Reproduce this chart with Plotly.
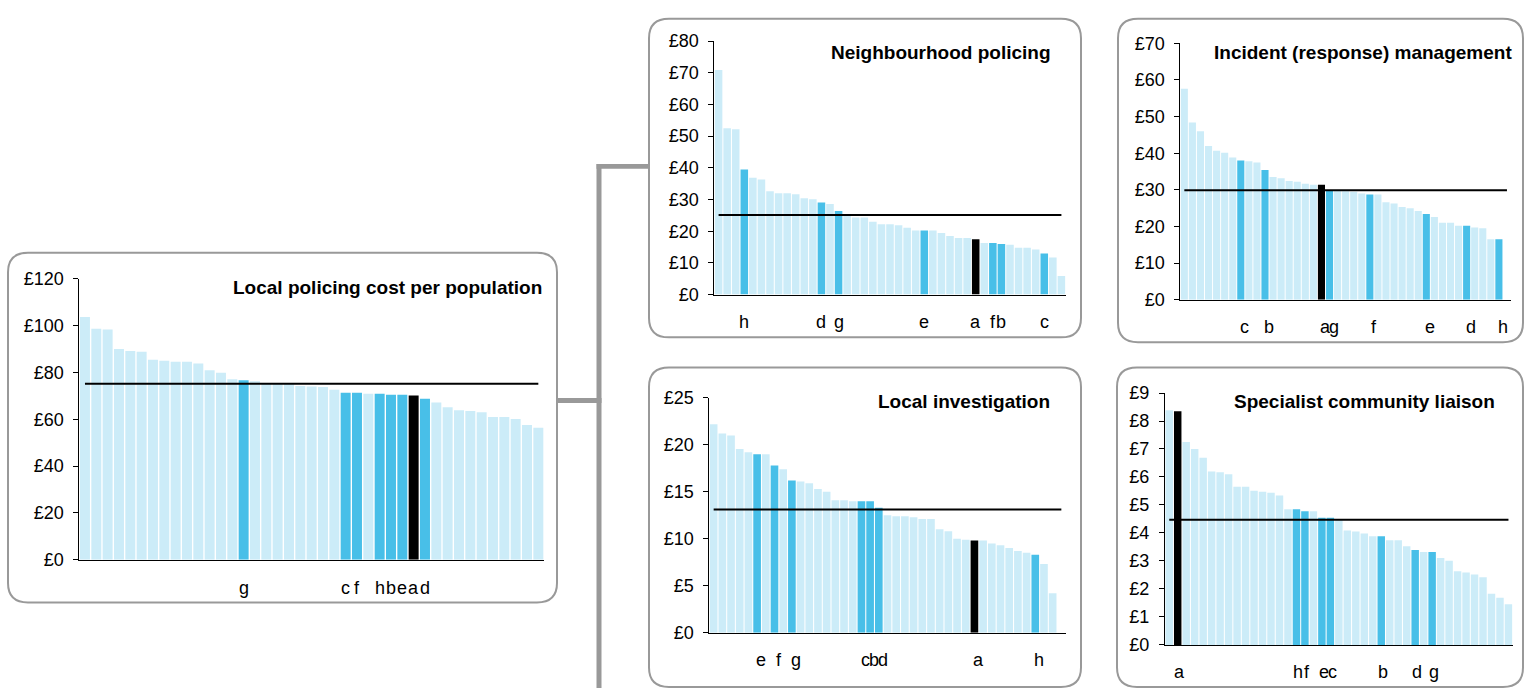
import plotly.graph_objects as go

W, H = 1526, 698

# ---------------- data ----------------
local_cost = [103.7, 98.7, 98.3, 90.0, 89.2, 88.8, 85.4, 85.0, 84.6, 84.6, 83.8, 80.9, 79.9, 77.1,
              76.7, 76.2, 75.5, 75.3, 75.2, 74.2, 74.0, 73.8, 72.6, 71.3, 71.3, 70.9, 70.9, 70.5,
              70.5, 70.1, 68.8, 67.2, 65.1, 63.9, 63.5, 63.0, 61.0, 61.0, 60.1, 57.6, 56.4]
local_cost_labels = [""] * 41
for i, l in {14: "g", 23: "c", 24: "f", 26: "h", 27: "b", 28: "e", 29: "a", 30: "d"}.items():
    local_cost_labels[i] = l
local_cost_avg = 75.2

neighbourhood = [70.9, 52.5, 52.2, 39.5, 36.9, 36.3, 32.6, 32.0, 32.0, 31.7, 30.4, 30.1, 29.1, 28.6,
                 26.4, 25.1, 24.3, 24.3, 23.0, 22.2, 22.2, 21.9, 21.1, 20.2, 20.2, 20.2, 19.4, 18.5,
                 17.9, 17.9, 17.5, 16.3, 16.3, 16.0, 15.7, 14.8, 14.8, 14.2, 13.0, 11.7, 5.9]
neighbourhood_labels = [""] * 41
for i, l in {3: "h", 12: "d", 14: "g", 24: "e", 30: "a", 32: "f", 33: "b", 38: "c"}.items():
    neighbourhood_labels[i] = l
neighbourhood_avg = 25.1

incident = [57.6, 48.4, 46.0, 42.0, 40.7, 40.1, 38.8, 38.0, 37.8, 37.5, 35.4, 33.5, 33.2, 32.4,
            32.2, 31.7, 31.4, 31.4, 29.9, 29.8, 29.6, 29.5, 29.0, 28.7, 28.7, 26.6, 26.3, 25.3,
            25.0, 24.2, 23.4, 22.6, 21.0, 21.0, 20.2, 20.2, 19.7, 19.5, 16.5, 16.5, None]
incident_labels = [""] * 41
for i, l in {7: "c", 10: "b", 17: "a", 18: "g", 23: "f", 30: "e", 35: "d", 39: "h"}.items():
    incident_labels[i] = l
incident_avg = 29.9

investigation = [22.2, 21.2, 21.0, 19.55, 19.2, 19.0, 19.0, 17.8, 17.4, 16.2, 16.1, 15.9, 15.3, 15.0,
                 14.1, 14.1, 14.0, 14.0, 14.0, 13.3, 12.5, 12.4, 12.4, 12.3, 12.1, 12.1, 11.0, 10.8,
                 10.0, 9.9, 9.8, 9.8, 9.5, 9.3, 9.0, 8.7, 8.5, 8.3, 7.3, 4.2, None]
investigation_labels = [""] * 41
for i, l in {5: "e", 7: "f", 9: "g", 17: "c", 18: "b", 19: "d", 30: "a", 37: "h"}.items():
    investigation_labels[i] = l
investigation_avg = 13.1

liaison = [8.38, 8.35, 7.25, 7.0, 6.69, 6.2, 6.17, 6.1, 5.65, 5.65, 5.51, 5.47, 5.44, 5.34, 4.85,
           4.85, 4.78, 4.78, 4.54, 4.54, 4.47, 4.09, 4.05, 3.98, 3.88, 3.88, 3.74, 3.74, 3.53, 3.39,
           3.32, 3.32, 3.11, 3.01, 2.63, 2.59, 2.52, 2.42, 1.83, 1.69, 1.45]
liaison_labels = [""] * 41
for i, l in {1: "a", 15: "h", 16: "f", 18: "e", 19: "c", 25: "b", 29: "d", 31: "g"}.items():
    liaison_labels[i] = l
liaison_avg = 4.47

# ---------------- styling ----------------
LIGHT = "#CCECF8"
HIGH = "#48BFE8"
BLACK = "#000000"
GREY = "#999999"
FONT = "Liberation Sans, Arial, sans-serif"

def px(x):
    return x / W

def py(y):
    return 1 - y / H

panels = [
    dict(title="Local policing cost per population", v=local_cost, lab=local_cost_labels, avg=local_cost_avg,
         ymax=120, dtick=20, dom=(79.3, 544, 276.7, 566), tpos=(544, 285.6), ly=594.7, xs=0),
    dict(title="Neighbourhood policing", v=neighbourhood, lab=neighbourhood_labels, avg=neighbourhood_avg,
         ymax=80, dtick=10, dom=(714.3, 1065.7, 32, 293), tpos=(1053.3, 44), ly=321.4, xs=0),
    dict(title="Incident (response) management", v=incident, lab=incident_labels, avg=incident_avg,
         ymax=70, dtick=10, dom=(1180.3, 1511, 34.3, 298.3), tpos=(1514, 43.3), ly=326.4, xs=4),
    dict(title="Local investigation", v=investigation, lab=investigation_labels, avg=investigation_avg,
         ymax=25, dtick=5, dom=(709.3, 1065.7, 399.3, 641), tpos=(1051.7, 403.3), ly=669.4, xs=4),
    dict(title="Specialist community liaison", v=liaison, lab=liaison_labels, avg=liaison_avg,
         ymax=9, dtick=1, dom=(1165, 1512.7, 394.3, 653.7), tpos=(1496.7, 403.3), ly=682, xs=2),
]

boxes = [(8, 250, 557, 610), (649, 9, 1081, 337), (1118, 9, 1523, 342),
         (649, 368, 1081, 697), (1117, 368, 1523, 697)]

fig = go.Figure()
layout = dict(width=W, height=H, margin=dict(l=0, r=0, t=0, b=0, pad=0), autosize=False,
              paper_bgcolor="white", plot_bgcolor="white", showlegend=False,
              bargap=0.12, font=dict(family=FONT, size=18, color="black"))
shapes = []
annotations = []

for k, p in enumerate(panels):
    n = k + 1
    xa = "x" if n == 1 else f"x{n}"
    ya = "y" if n == 1 else f"y{n}"
    xs = list(range(len(p["v"])))
    colors = []
    for l in p["lab"]:
        if l == "a":
            colors.append(BLACK)
        elif l:
            colors.append(HIGH)
        else:
            colors.append(LIGHT)
    fig.add_trace(go.Bar(x=xs, y=p["v"], marker=dict(color=colors, line=dict(width=0)),
                         xaxis=xa, yaxis=ya, hoverinfo="y"))
    fig.add_trace(go.Scatter(x=[xs[0], xs[-1]], y=[p["avg"], p["avg"]], mode="lines",
                             line=dict(color="black", width=2), xaxis=xa, yaxis=ya, hoverinfo="skip"))
    x0, x1, yt, yb = p["dom"]
    xkey = "xaxis" if n == 1 else f"xaxis{n}"
    ykey = "yaxis" if n == 1 else f"yaxis{n}"
    layout[xkey] = dict(domain=[px(x0), px(x1)], range=[-0.5, len(xs) - 0.5], anchor=ya,
                        showline=True, linecolor="black", linewidth=1, showgrid=False, zeroline=False,
                        ticks="", showticklabels=False, fixedrange=True)
    layout[ykey] = dict(domain=[py(yb), py(yt)], range=[0, p["ymax"]], anchor=xa,
                        showline=True, linecolor="black", linewidth=1, showgrid=False, zeroline=False,
                        ticks="outside", ticklen=5, tickcolor="black", tickwidth=1,
                        dtick=p["dtick"], tick0=0, tickprefix="£", ticklabelstandoff=6,
                        tickfont=dict(family=FONT, size=18, color="black"), fixedrange=True)
    annotations.append(dict(text=f"<b>{p['title']}</b>", xref="paper", yref="paper",
                            x=px(p["tpos"][0]), y=py(p["tpos"][1]), xanchor="right", yanchor="middle",
                            showarrow=False, font=dict(family=FONT, size=19, color="black")))
    for i, l in enumerate(p["lab"]):
        if l:
            annotations.append(dict(text=l, xref=xa, yref="paper", x=i, y=py(p["ly"]),
                                    xanchor="center", yanchor="middle", xshift=p["xs"],
                                    showarrow=False, font=dict(family=FONT, size=18, color="black")))

# rounded boxes
R = 20
for (x0, y0, x1, y1) in boxes:
    rx, ry = R / W, R / H
    X0, X1, Y0, Y1 = px(x0), px(x1), py(y0), py(y1)
    path = (f"M {X0 + rx},{Y0} L {X1 - rx},{Y0} Q {X1},{Y0} {X1},{Y0 - ry} "
            f"L {X1},{Y1 + ry} Q {X1},{Y1} {X1 - rx},{Y1} "
            f"L {X0 + rx},{Y1} Q {X0},{Y1} {X0},{Y1 + ry} "
            f"L {X0},{Y0 - ry} Q {X0},{Y0} {X0 + rx},{Y0} Z")
    shapes.append(dict(type="path", path=path, xref="paper", yref="paper",
                       line=dict(color=GREY, width=2), fillcolor="rgba(0,0,0,0)", layer="below"))

# connector lines (thick grey)
for (x0, y0, x1, y1) in [(557, 399.5, 601.5, 404.5), (596.5, 158.5, 601.5, 698),
                         (596.5, 158.5, 649, 163.5)]:
    shapes.append(dict(type="rect", xref="paper", yref="paper", x0=px(x0), x1=px(x1),
                       y0=py(y1), y1=py(y0), fillcolor=GREY, line=dict(width=0), layer="below"))

layout["shapes"] = shapes
layout["annotations"] = annotations
fig.update_layout(**layout)

fig.write_html("out.html", config={"displayModeBar": False, "responsive": False},
               post_script="document.body.style.margin='0';")
